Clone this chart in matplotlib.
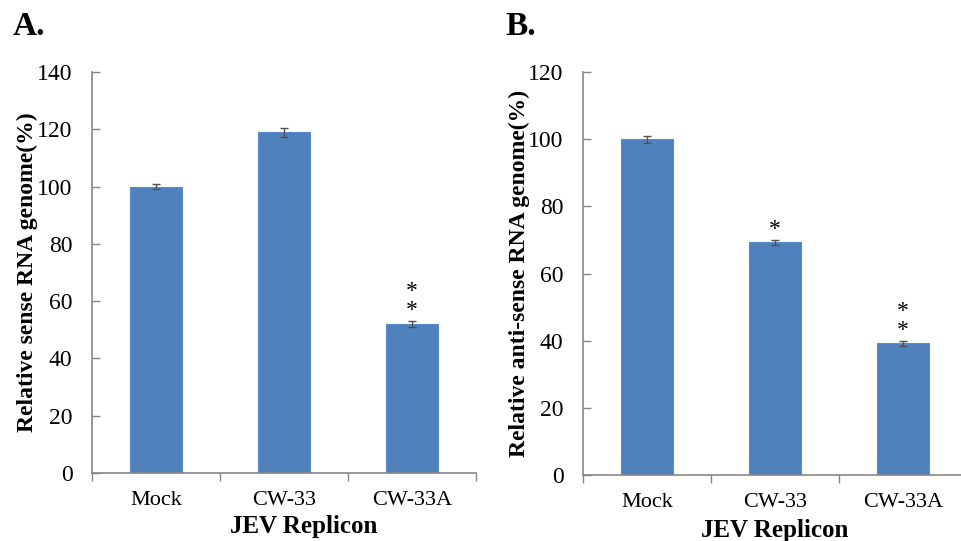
import matplotlib
matplotlib.use('Agg')
import matplotlib.pyplot as plt
import numpy as np

plt.rcParams['font.family'] = ['Liberation Serif', 'DejaVu Serif']

# 数据
categories = ['Mock', 'CW-33', 'CW-33A']
sense_values = [100, 119, 52]
sense_errors = [1.0, 1.6, 1.1]
sense_stars = ['', '', '*\n*']
anti_values = [100, 69.3, 39.2]
anti_errors = [1.0, 0.8, 0.8]
anti_stars = ['', '*', '*\n*']

BAR_COLOR = '#4F81BD'
AXIS_COLOR = '#868686'
W, H = 961, 541


def draw_panel(ax, values, errors, stars, ymax, ystep, ylabel, xlabel_pos):
    """
    绘制一个柱状图面板
    """
    x = np.arange(1, len(categories) + 1)
    ax.bar(x, values, width=0.4, color=BAR_COLOR, edgecolor='#5B8CC6', linewidth=0.8, zorder=2)
    ax.errorbar(x, values, yerr=errors, fmt='none', ecolor='#505050', elinewidth=1,
                capsize=3, capthick=1, zorder=3)
    for xi, v, e, s in zip(x, values, errors, stars):
        if s:
            ax.annotate(s, (xi, v + e), xytext=(0, 0), textcoords='offset points',
                        ha='center', va='bottom', fontsize=17, linespacing=0.85)
    ax.set_xlim(0.5, len(categories) + 0.5)
    ax.set_ylim(0, ymax)
    ax.set_yticks(np.arange(0, ymax + 1, ystep))
    ax.set_xticks(np.arange(0.5, len(categories) + 1, 1))
    ax.set_xticklabels([])
    ax.set_xticks(x, minor=True)
    ax.set_xticklabels(categories, minor=True)
    ax.tick_params(axis='x', which='major', direction='out', length=6, width=1, color=AXIS_COLOR)
    ax.tick_params(axis='x', which='minor', length=0, pad=13, labelsize=16)
    ax.tick_params(axis='y', direction='in', length=6, width=1, color=AXIS_COLOR,
                   pad=14, labelsize=17)
    for side in ['top', 'right']:
        ax.spines[side].set_visible(False)
    for side in ['left', 'bottom']:
        ax.spines[side].set_color(AXIS_COLOR)
        ax.spines[side].set_linewidth(1.2)
    ax.set_ylabel(ylabel, fontsize=17, fontweight='bold', labelpad=-1)
    ax.set_xlabel('JEV Replicon', fontsize=18, fontweight='bold')
    ax.xaxis.set_label_coords(*xlabel_pos)


fig = plt.figure(figsize=(W / 100, H / 100), dpi=100)
ax_a = fig.add_axes([92 / W, 1 - 473 / H, 384 / W, 401 / H])
ax_b = fig.add_axes([583 / W, 1 - 475 / H, 384 / W, 403 / H])

draw_panel(ax_a, sense_values, sense_errors, sense_stars, 140, 20,
           'Relative sense RNA genome(%)', (0.55, -0.105))
draw_panel(ax_b, anti_values, anti_errors, anti_stars, 120, 20,
           'Relative anti-sense RNA genome(%)', (0.5, -0.11))

fig.text(13 / W, 1 - 35 / H, 'A.', fontsize=24, fontweight='bold', ha='left', va='baseline')
fig.text(505 / W, 1 - 35 / H, 'B.', fontsize=24, fontweight='bold', ha='left', va='baseline')

fig.savefig('out.png', dpi=100)
